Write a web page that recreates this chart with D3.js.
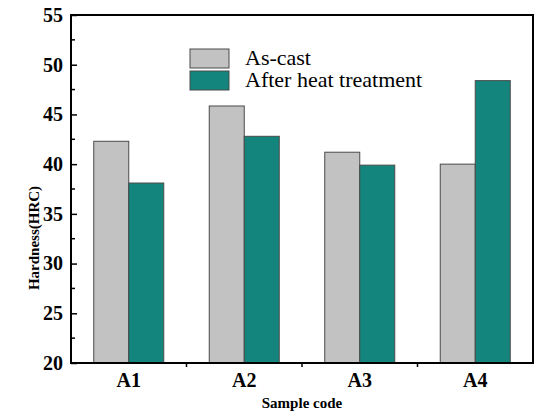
<!DOCTYPE html>
<html>
<head>
<meta charset="utf-8">
<script src="https://cdn.jsdelivr.net/npm/d3@7"></script>
<style>
  body { margin: 0; background: #fff; }
  svg { display: block; }
  svg text { font-family: "Liberation Serif", "Times New Roman", serif; fill: #000; }
</style>
</head>
<body>
<svg id="chart" width="534" height="414"></svg>
<script>
const samples = ["A1", "A2", "A3", "A4"];
const seriesNames = ["As-cast", "After heat treatment"];
const asCast = [42.3, 45.85, 41.2, 40.0];
const afterHeat = [38.1, 42.8, 39.9, 48.4];
const yTicks = [20, 25, 30, 35, 40, 45, 50, 55];
const yMinorTicks = [22.5, 27.5, 32.5, 37.5, 42.5, 47.5, 52.5];

const colors = ["#c2c2c2", "#14857d"];

const svg = d3.select("#chart");
const margin = { left: 71, right: 1, top: 15, bottom: 51 };
const width = 534 - margin.left - margin.right;
const height = 414 - margin.top - margin.bottom;

const g = svg.append("g").attr("transform", `translate(${margin.left},${margin.top})`);

const x = d3.scaleBand().domain(samples).range([0, width]);
const inner = d3.scaleBand().domain(seriesNames).range([x.bandwidth() / 2 - 35, x.bandwidth() / 2 + 35]);
const y = d3.scaleLinear().domain([20, 55]).range([height, 0]);

const rows = samples.map((s, i) => ({ sample: s, values: [asCast[i], afterHeat[i]] }));

// bars
g.selectAll(".group")
  .data(rows)
  .join("g")
  .attr("class", "group")
  .attr("transform", (d) => `translate(${x(d.sample)},0)`)
  .selectAll("rect")
  .data((d) => d.values.map((v, k) => ({ name: seriesNames[k], value: v, k })))
  .join("rect")
  .attr("x", (d) => inner(d.name))
  .attr("width", inner.bandwidth())
  .attr("y", (d) => y(d.value))
  .attr("height", (d) => y(20) - y(d.value))
  .attr("fill", (d) => colors[d.k])
  .attr("stroke", "#4a4a4a")
  .attr("stroke-width", 1);

// y axis, ticks inside
const yAxis = g.append("g")
  .call(d3.axisLeft(y).tickValues(yTicks).tickSize(-6).tickPadding(8).tickFormat(d3.format("d")));
yAxis.select(".domain").remove();
yAxis.selectAll(".tick line").attr("stroke", "#000").attr("stroke-width", 1.5);
yAxis.selectAll("text")
  .style("font-size", "20px").style("font-weight", "bold");

g.append("g")
  .selectAll("line")
  .data(yMinorTicks)
  .join("line")
  .attr("x1", 0).attr("x2", 4)
  .attr("y1", (d) => y(d)).attr("y2", (d) => y(d))
  .attr("stroke", "#000").attr("stroke-width", 1.5);

// x axis
const xAxis = g.append("g")
  .attr("transform", `translate(0,${height})`)
  .call(d3.axisBottom(x).tickSize(0).tickPadding(10));
xAxis.select(".domain").remove();
xAxis.selectAll("text")
  .style("font-size", "20px").style("font-weight", "bold");

// separators between categories
g.append("g")
  .selectAll("line")
  .data(samples.slice(1))
  .join("line")
  .attr("x1", (d) => x(d)).attr("x2", (d) => x(d))
  .attr("y1", height).attr("y2", height + 4)
  .attr("stroke", "#000").attr("stroke-width", 1.5);

// frame
g.append("rect")
  .attr("x", 0).attr("y", 0)
  .attr("width", width).attr("height", height)
  .attr("fill", "none").attr("stroke", "#000").attr("stroke-width", 2);

// axis titles
svg.append("text")
  .attr("x", margin.left + width / 2)
  .attr("y", 408)
  .attr("text-anchor", "middle")
  .style("font-size", "15px").style("font-weight", "bold")
  .text("Sample code");

svg.append("text")
  .attr("transform", "translate(39,238) rotate(-90)")
  .attr("text-anchor", "middle")
  .style("font-size", "15px").style("font-weight", "bold")
  .text("Hardness(HRC)");

// legend
const legend = svg.append("g").attr("transform", "translate(190,49)");
legend.selectAll("rect")
  .data(seriesNames)
  .join("rect")
  .attr("x", 0).attr("y", (d, i) => i * 22)
  .attr("width", 39).attr("height", 19)
  .attr("fill", (d, i) => colors[i])
  .attr("stroke", "#4a4a4a").attr("stroke-width", 1);
legend.selectAll("text")
  .data(seriesNames)
  .join("text")
  .attr("x", 55).attr("y", (d, i) => 16 + i * 22)
  .style("font-size", "22px")
  .text((d) => d);
</script>
</body>
</html>
